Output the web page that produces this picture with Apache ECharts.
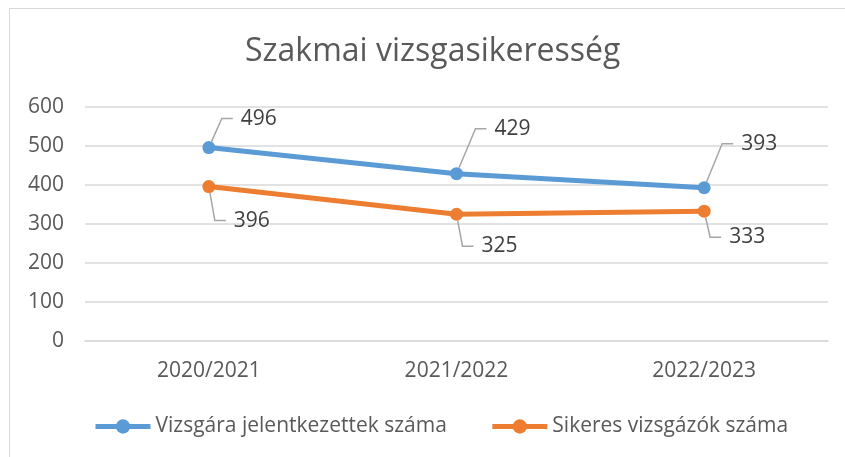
<!DOCTYPE html>
<html>
<head>
<meta charset="utf-8">
<script src="https://cdn.jsdelivr.net/npm/echarts@6/dist/echarts.min.js"></script>
<style>
  html, body { margin: 0; padding: 0; background: #fff; overflow: hidden; }
  #frame { position: absolute; left: 9px; top: 8px; width: 850px; height: 460px; border: 1px solid #d9d9d9; }
  #chart { position: absolute; left: 0; top: 0; width: 845px; height: 457px; }
</style>
</head>
<body>
<div id="frame"></div>
<div id="chart"></div>
<script>
// adatok
const categories = ['2020/2021', '2021/2022', '2022/2023']
const jelentkezettek = [496, 429, 393]
const sikeresek = [396, 325, 333]

// címkék eltolása a ponthoz képest (Excel callout stílus)
const blueOffsets = [[50, -29], [56, -45], [55, -44]]
const orangeOffsets = [[43, 34], [43, 32], [43, 26]]

const font = 'Open Sans'
const chart = echarts.init(document.getElementById('chart'))

function makeSeries(name, data, color, offsets) {
  return {
    name: name,
    type: 'line',
    data: data,
    symbol: 'circle',
    symbolSize: 13,
    itemStyle: { color: color },
    lineStyle: { color: color, width: 5 },
    label: {
      show: true,
      position: 'inside',
      color: '#404040',
      fontFamily: font,
      fontSize: 21,
      padding: [0, 8],
      backgroundColor: 'rgba(255,255,255,0)'
    },
    labelLine: {
      show: true,
      length2: 11,
      lineStyle: { color: '#a6a6a6', width: 1.5 }
    },
    labelLayout: function (p) {
      const o = offsets[p.dataIndex]
      return { dx: o[0], dy: o[1] }
    },
    emphasis: { disabled: true },
    animation: false
  }
}

chart.setOption({
  title: {
    text: 'Szakmai vizsgasikeresség',
    left: 240,
    top: 31,
    textStyle: { fontFamily: font, fontSize: 32, fontWeight: 'normal', color: '#595959' }
  },
  legend: {
    bottom: 15,
    left: 88,
    itemWidth: 55,
    itemHeight: 18,
    itemGap: 43,
    lineStyle: { width: 5 },
    textStyle: { fontFamily: font, fontSize: 21, color: '#595959' },
    data: ['Vizsgára jelentkezettek száma', 'Sikeres vizsgázók száma']
  },
  grid: { left: 85, right: 17, top: 107, bottom: 116 },
  xAxis: {
    type: 'category',
    data: categories,
    axisLine: { lineStyle: { color: '#d9d9d9', width: 1.5 } },
    axisTick: { show: false },
    axisLabel: { color: '#595959', fontFamily: font, fontSize: 21, margin: 20 }
  },
  yAxis: {
    type: 'value',
    min: 0,
    max: 600,
    interval: 100,
    axisLine: { show: false },
    axisTick: { show: false },
    splitLine: { lineStyle: { color: '#d9d9d9', width: 1.5 } },
    axisLabel: { color: '#595959', fontFamily: font, fontSize: 21, margin: 21 }
  },
  series: [
    makeSeries('Vizsgára jelentkezettek száma', jelentkezettek, '#5b9bd5', blueOffsets),
    makeSeries('Sikeres vizsgázók száma', sikeresek, '#ed7d31', orangeOffsets)
  ]
})
</script>
</body>
</html>
